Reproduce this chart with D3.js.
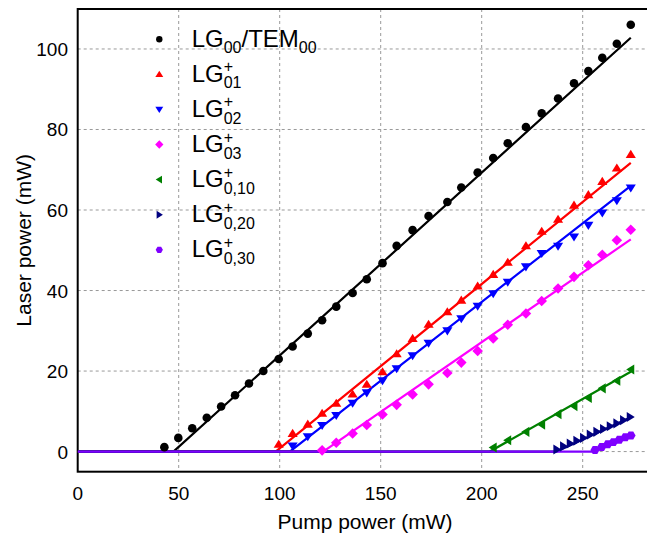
<!DOCTYPE html>
<html><head><meta charset="utf-8">
<script src="https://cdn.jsdelivr.net/npm/d3@7"></script>
<style>body{margin:0;background:#fff}svg{display:block}text{font-family:"Liberation Sans",Arial,sans-serif}</style>
</head><body><svg id="c" width="647" height="535"></svg>
<script>
// ---- data ----
const pump = [42.9,49.8,56.7,63.9,71.0,77.9,84.8,91.9,99.5,106.4,113.9,121.0,128.0,136.1,143.1,150.9,157.9,165.8,173.7,183.0,189.9,198.0,205.7,212.9,221.9,229.7,237.8,245.7,252.8,259.7,266.9,273.8];
const lg00 = [1.1,3.4,5.8,8.4,11.2,14.0,16.9,20.0,23.0,26.1,29.3,32.6,36.0,39.4,42.8,46.8,51.1,55.0,58.5,62.0,65.6,69.3,72.9,76.6,80.6,84.0,87.7,91.5,94.5,97.8,101.3,106.0];
const lg01 = [1.8,4.5,6.8,9.5,12.0,14.3,16.7,19.8,24.3,28.1,31.6,34.7,37.6,41.1,44.0,47.0,51.1,54.7,57.7,61.2,63.8,67.1,70.4,73.8]; // from pump[8]
const lg02 = [1.4,3.7,6.5,9.0,12.0,14.6,17.6,20.6,23.8,26.9,30.0,33.0,36.1,39.2,42.1,45.9,49.2,51.0,53.3,56.2,59.3,62.3,65.5]; // from pump[9]
const lg03 = [0.3,2.2,4.5,6.6,9.2,11.6,14.2,16.7,19.5,22.1,25.0,28.1,31.5,34.3,37.4,40.5,43.4,46.3,48.9,52.5,55.1]; // from pump[11]
const lg010 = [1.0,2.8,4.9,6.7,9.3,11.3,13.3,15.7,17.6,20.4]; // from pump[22]
const pump020 = [237.2,240.5,243.8,247.1,250.4,253.7,257.0,260.3,263.6,266.9,270.2,273.5];
const lg020 = [0.5,1.3,2.0,2.7,3.4,4.2,4.9,5.6,6.3,7.0,7.8,8.6];
const pump030 = [256.1,259.4,262.4,265.2,268.1,271.1,273.9];
const lg030 = [0.4,1.15,1.8,2.35,2.95,3.55,4.0];
// linear fits: threshold (mW) and slope efficiency
const fitThreshold = [47.4,98.0,105.0,121.5,204.0,237.0,255.0];
const fitSlope = [0.454,0.408,0.391,0.346,0.284,0.232,0.213];
const fitEnd = 273.8;
const xTicks = [0,50,100,150,200,250];
const yTicks = [0,20,40,60,80,100];
const seriesNames = ["00/TEM","01","02","03","0,10","0,20","0,30"];
const colors = ["#000000","#ff0000","#0000ff","#ff00ff","#008000","#000080","#7f00ff"];
const shapes = ["circle","up","down","diamond","left","right","hex"];

const series = [
  {x: pump, y: lg00},
  {x: pump.slice(8), y: lg01},
  {x: pump.slice(9), y: lg02},
  {x: pump.slice(11), y: lg03},
  {x: pump.slice(22), y: lg010},
  {x: pump020, y: lg020},
  {x: pump030, y: lg030}
];

// ---- layout ----
const svg = d3.select("#c");
const L = 77.7, T = 9, B = 471.7;
const x = d3.scaleLinear().domain([0, 287]).range([L, L + 2.02*287]);
const y = d3.scaleLinear().domain([-5, 110]).range([B, B - 4.026*115]);
const R = x.range()[1];

// grid
const g = svg.append("g");
g.selectAll(".gx").data(xTicks.filter(d=>d>0)).join("line")
  .attr("x1", d=>x(d)).attr("x2", d=>x(d)).attr("y1", T).attr("y2", B)
  .attr("stroke","#999").attr("stroke-width",1).attr("stroke-dasharray","3,3");
g.selectAll(".gy").data(yTicks).join("line")
  .attr("x1", L).attr("x2", R).attr("y1", d=>y(d)).attr("y2", d=>y(d))
  .attr("stroke","#999").attr("stroke-width",1).attr("stroke-dasharray","3,3");

// axes frame
svg.append("rect").attr("x",L).attr("y",T).attr("width",R-L).attr("height",B-T)
  .attr("fill","none").attr("stroke","#000").attr("stroke-width",2);

// tick labels
svg.append("g").selectAll("text").data(xTicks).join("text")
  .attr("x", d=>x(d)).attr("y", 500).attr("text-anchor","middle")
  .attr("font-size",19).text(d=>d);
svg.append("g").selectAll("text").data(yTicks).join("text")
  .attr("x", 68).attr("y", d=>y(d)+7).attr("text-anchor","end")
  .attr("font-size",19).text(d=>d);

svg.append("text").attr("x", 365).attr("y", 529).attr("text-anchor","middle")
  .attr("font-size",21).text("Pump power (mW)");
svg.append("text").attr("transform",`translate(31,${(T+B)/2}) rotate(-90)`)
  .attr("text-anchor","middle").attr("font-size",21).text("Laser power (mW)");

// fit lines
const line = d3.line().x(d=>x(d[0])).y(d=>y(d[1]));
const clip = svg.append("clipPath").attr("id","cp").append("rect")
  .attr("x",L).attr("y",T).attr("width",R-L).attr("height",B-T);
fitThreshold.forEach((t,i)=>{
  const pts = [[0,0],[t,0],[fitEnd, fitSlope[i]*(fitEnd-t)]];
  svg.append("path").attr("d", line(pts)).attr("fill","none")
    .attr("stroke", colors[i]).attr("stroke-width",2.2).attr("clip-path","url(#cp)");
});

// marker paths
function shapePath(s, r){
  switch(s){
    case "circle": return d3.symbol(d3.symbolCircle, Math.PI*r*r)();
    case "up": return `M0,${-r}L${r*1.1},${r*0.75}L${-r*1.1},${r*0.75}Z`;
    case "down": return `M0,${r}L${r*1.1},${-r*0.75}L${-r*1.1},${-r*0.75}Z`;
    case "left": return `M${-r},0L${r*0.75},${-r*1.1}L${r*0.75},${r*1.1}Z`;
    case "right": return `M${r},0L${-r*0.75},${-r*1.1}L${-r*0.75},${r*1.1}Z`;
    case "diamond": return `M0,${-r*1.15}L${r*1.15},0L0,${r*1.15}L${-r*1.15},0Z`;
    case "hex": { let p=[]; for(let k=0;k<6;k++){const a=Math.PI/3*k; p.push([r*Math.cos(a), r*Math.sin(a)]);} return "M"+p.map(q=>q.join(",")).join("L")+"Z"; }
  }
}
series.forEach((s,i)=>{
  const data = s.x.map((v,k)=>[v, s.y[k]]);
  svg.append("g").selectAll("path").data(data).join("path")
    .attr("transform", d=>`translate(${x(d[0])},${y(d[1])})`)
    .attr("d", shapePath(shapes[i], i===0?4.3:4.6)).attr("fill", colors[i]);
});

// legend
const lg = svg.append("g");
seriesNames.forEach((n,i)=>{
  const base = 46.7 + i*35.1;
  lg.append("path").attr("transform",`translate(159.3,${base-7.5})`)
    .attr("d", shapePath(shapes[i], i===0?3.2:3.6)).attr("fill", colors[i]);
  const t = lg.append("text").attr("x",191.7).attr("y",base).attr("font-size",24).text("LG");
  const w = t.node().getComputedTextLength();
  if(i===0){
    const s1 = lg.append("text").attr("x",191.7+w).attr("y",base+6.6).attr("font-size",16).text("00");
    const w1 = s1.node().getComputedTextLength();
    const t2 = lg.append("text").attr("x",191.7+w+w1).attr("y",base).attr("font-size",24).text("/TEM");
    const w2 = t2.node().getComputedTextLength();
    lg.append("text").attr("x",191.7+w+w1+w2).attr("y",base+6.6).attr("font-size",16).text("00");
  } else {
    lg.append("text").attr("x",191.7+w).attr("y",base-9.5).attr("font-size",16).text("+");
    lg.append("text").attr("x",191.7+w).attr("y",base+6.6).attr("font-size",16).text(n);
  }
});
</script></body></html>
